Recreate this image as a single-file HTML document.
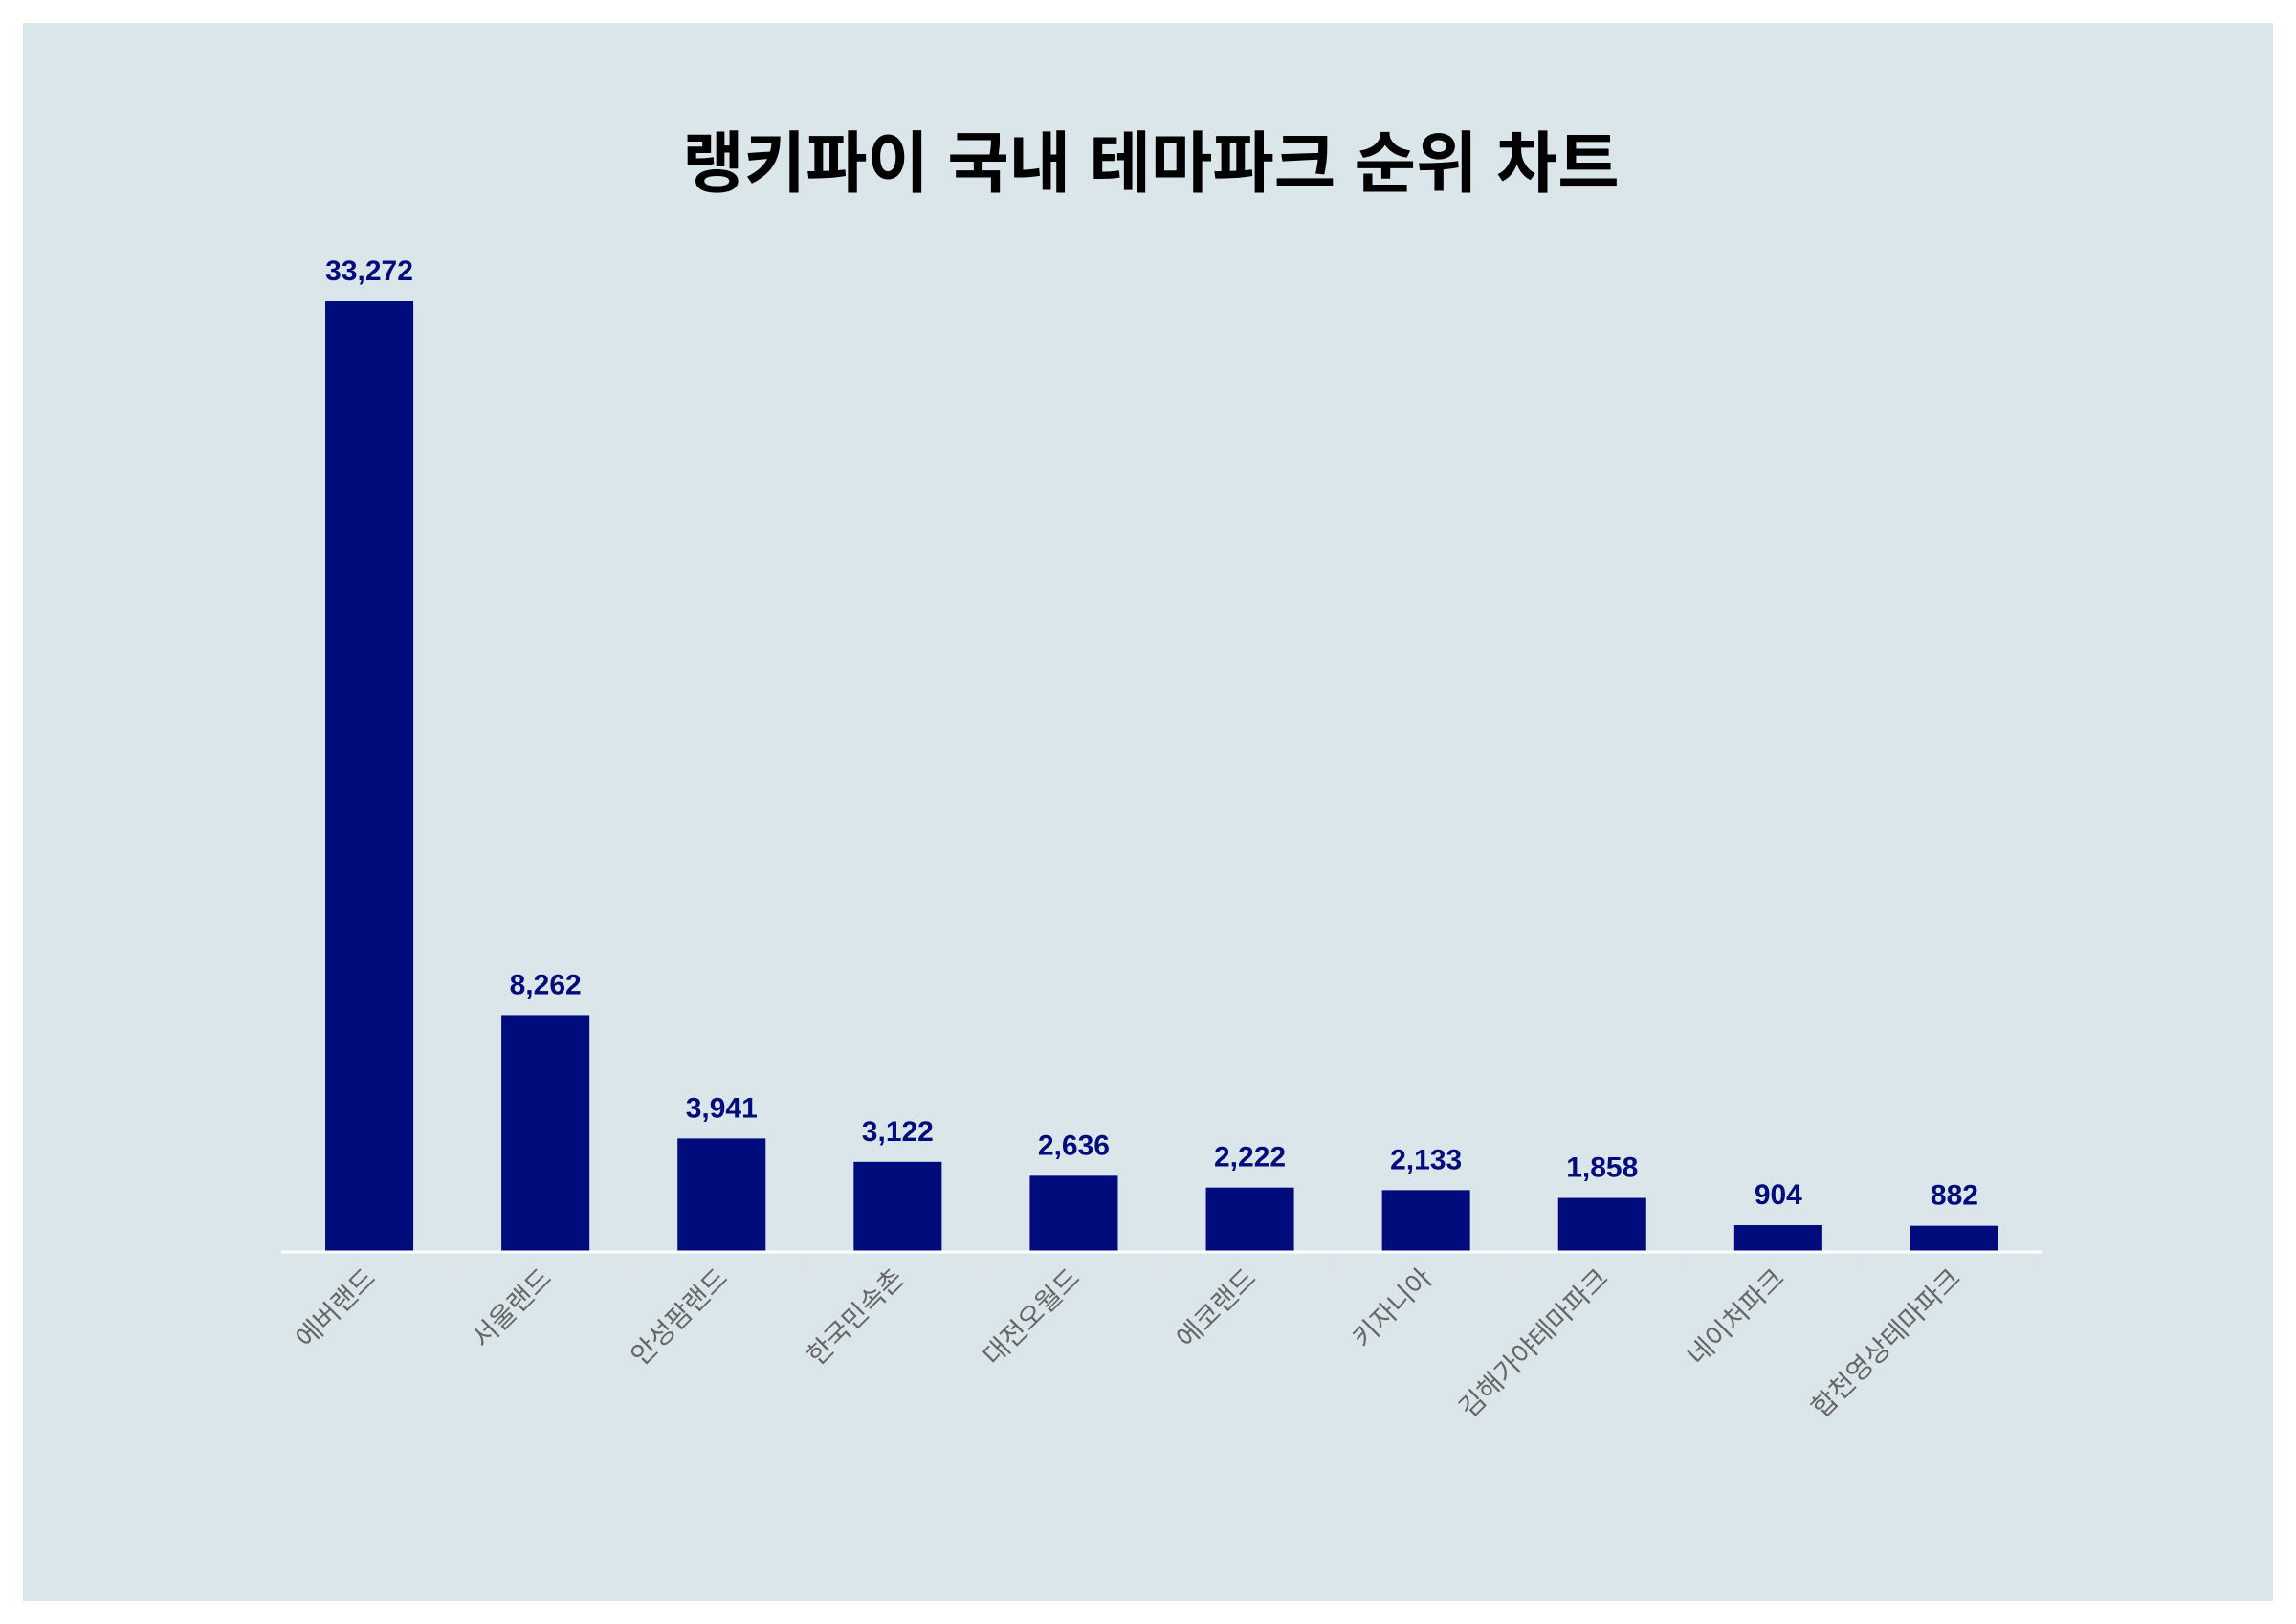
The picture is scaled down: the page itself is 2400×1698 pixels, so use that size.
<!DOCTYPE html>
<html><head><meta charset="utf-8"><style>
html,body{margin:0;padding:0;background:#fff;}
svg{display:block;}
</style></head><body>
<svg width="2400" height="1698" xmlns="http://www.w3.org/2000/svg">
<rect x="24" y="24" width="2352" height="1650" fill="#dbe6ea"/>
<text x="1203" y="195" text-anchor="middle" font-family="'Liberation Sans','Noto Sans CJK KR',sans-serif" font-weight="bold" font-size="70" fill="#000">랭키파이 국내 테마파크 순위 차트</text>
<g id="ticks"></g>
<g id="bars"></g>
<line x1="294" y1="1309" x2="2135" y2="1309" stroke="#ffffff" stroke-width="3"/>
<g id="labels"></g>
</svg>
<script>
const categories = ["에버랜드","서울랜드","안성팜랜드","한국민속촌","대전오월드","에코랜드","키자니아","김해가야테마파크","네이처파크","합천영상테마파크"];
const values = [33272,8262,3941,3122,2636,2222,2133,1858,904,882];
const valueLabels = ["33,272","8,262","3,941","3,122","2,636","2,222","2,133","1,858","904","882"];

const NS="http://www.w3.org/2000/svg";
const x0=294, x1=2135, baseY=1308, topY=315;
const band=(x1-x0)/categories.length;
const maxV=Math.max(...values);
function xCenter(i){return x0+band*(i+0.5);}
function yScale(v){return baseY-(v/maxV)*(baseY-topY);}
const bars=document.getElementById('bars'), labels=document.getElementById('labels'), ticks=document.getElementById('ticks');
for(let i=0;i<=categories.length;i++){
  const t=document.createElementNS(NS,'line');
  
  
  const tx=x0+band*i;
  t.setAttribute('x1',tx);t.setAttribute('x2',tx);t.setAttribute('y1',1311);t.setAttribute('y2',1340);
  t.setAttribute('stroke','#e4e4e4');t.setAttribute('stroke-width','2');
  ticks.appendChild(t);
}
categories.forEach((c,i)=>{
  const cx=xCenter(i), y=yScale(values[i]), w=band*0.5;
  const r=document.createElementNS(NS,'rect');
  
  
  r.setAttribute('x',cx-w/2);r.setAttribute('y',y);r.setAttribute('width',w);r.setAttribute('height',baseY-y);
  r.setAttribute('fill','#000c7c');
  bars.appendChild(r);
  const v=document.createElementNS(NS,'text');
  
  
  v.setAttribute('x',cx);v.setAttribute('y',y-22);v.setAttribute('text-anchor','middle');
  v.setAttribute('font-family',"'Liberation Sans','Noto Sans CJK KR',sans-serif");
  v.setAttribute('font-weight','bold');v.setAttribute('font-size','30');v.setAttribute('fill','#000c7c');
  v.textContent=valueLabels[i];
  bars.appendChild(v);
  const l=document.createElementNS(NS,'text');
  
  
  const lx=cx+8, ly=1338;
  l.setAttribute('x',lx);l.setAttribute('y',ly);l.setAttribute('text-anchor','end');
  l.setAttribute('transform','rotate(-45 '+lx+' '+ly+')');
  l.setAttribute('font-family',"'Liberation Sans','Noto Sans CJK KR',sans-serif");
  l.setAttribute('font-size','28');l.setAttribute('fill','#666');
  l.textContent=c;
  labels.appendChild(l);
});
</script>
</body></html>
